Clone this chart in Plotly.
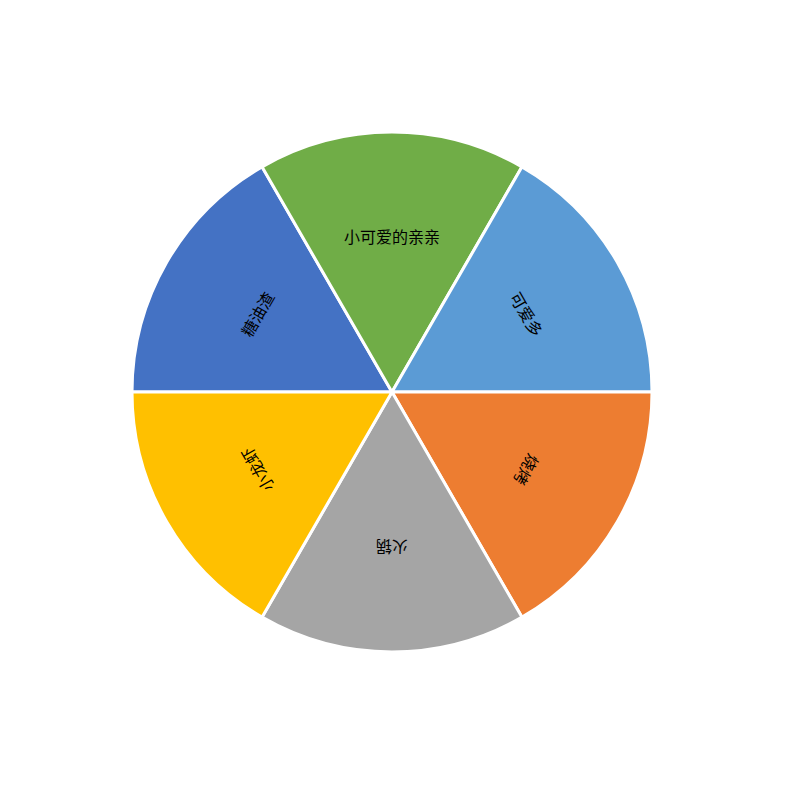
import numpy as np
import plotly.graph_objects as go

# slices listed clockwise, starting at 9 o'clock
labels = ["糖油渣", "小可爱的亲亲", "可爱多", "烧烤", "火锅", "小龙虾"]
values = [1, 1, 1, 1, 1, 1]
colors = ["#4472C4", "#70AD47", "#5B9BD5", "#ED7D31", "#A5A5A5", "#FFC000"]

W = 787
OFF = 8  # default body margin of the html page
cx, cy, R = (392 - OFF) / W, (392 - OFF) / W, 260 / W
start_deg = 180  # ccw from +x (9 o'clock)

fig = go.Figure(go.Pie(
    labels=labels,
    values=values,
    sort=False,
    direction="clockwise",
    rotation=270,
    marker=dict(colors=colors, line=dict(color="white", width=3)),
    textinfo="none",
    hoverinfo="label+value",
    domain=dict(x=[cx - R, cx + R], y=[1 - cy - R, 1 - cy + R]),
    showlegend=False,
))

# tangential labels, like the original (bottom ones stay upside down)
total = sum(values)
acc = 0
annotations = []
for lab, v in zip(labels, values):
    mid = start_deg - 360 * (acc + v / 2) / total
    acc += v
    th = np.radians(mid)
    annotations.append(dict(
        x=cx + 0.6 * R * np.cos(th), y=1 - cy + 0.6 * R * np.sin(th),
        xref="paper", yref="paper", xanchor="center", yanchor="middle",
        showarrow=False,
        text=lab, textangle=90 - mid,
        font=dict(family="Noto Sans CJK SC", size=16, color="black"),
    ))

fig.update_layout(
    width=W, height=W,
    margin=dict(l=0, r=0, t=0, b=0),
    paper_bgcolor="white",
    annotations=annotations,
)

fig.write_html("out.html")
